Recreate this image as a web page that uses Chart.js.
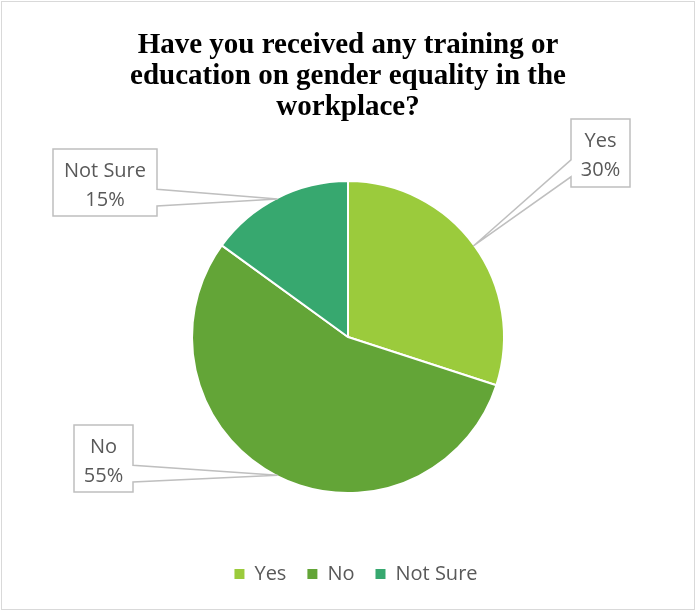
<!DOCTYPE html>
<html>
<head>
<meta charset="utf-8">
<script src="https://cdn.jsdelivr.net/npm/chart.js@4"></script>
<style>
html, body { margin: 0; padding: 0; background: #fff; }
#wrap { width: 696px; height: 611px; }
</style>
</head>
<body>
<div id="wrap"><canvas id="myChart" width="696" height="611"></canvas></div>
<script>
var labels = ['Yes', 'No', 'Not Sure'];
var values = [30, 55, 15];
var colors = ['#9BCB3C', '#63A537', '#37A86F'];
var titleLines = ['Have you received any training or', 'education on gender equality in the', 'workplace?'];

// callout boxes (canvas px), one per slice, in the same order as labels
var boxes = [
    {x: 571, y: 119, w: 59, h: 68, side: 'left'},
    {x: 74, y: 425, w: 59, h: 67, side: 'right'},
    {x: 53, y: 149, w: 104, h: 67, side: 'right'}
];

var frame = {
    id: 'frame',
    beforeDraw: function(chart) {
        var ctx = chart.ctx;
        ctx.save();
        ctx.fillStyle = '#fff';
        ctx.fillRect(0, 0, chart.width, chart.height);
        ctx.restore();
    },
    afterLayout: function(chart) {
        // legend sits a little right of centre in the original
        chart.legend.left += 8;
        chart.legend.right += 8;
    },
    afterDraw: function(chart) {
        var ctx = chart.ctx;
        ctx.save();
        ctx.strokeStyle = '#d9d9d9';
        ctx.lineWidth = 1;
        ctx.strokeRect(1.5, 1.5, chart.width - 3, chart.height - 3);
        ctx.restore();
    }
};

var callouts = {
    id: 'callouts',
    afterDatasetsDraw: function(chart) {
        var ctx = chart.ctx;
        var meta = chart.getDatasetMeta(0);
        var total = values.reduce(function(a, b) { return a + b; }, 0);
        meta.data.forEach(function(arc, i) {
            var p = arc.getProps(['x', 'y', 'startAngle', 'endAngle', 'outerRadius']);
            var mid = (p.startAngle + p.endAngle) / 2;
            var r = p.outerRadius - 1;
            var ax = p.x + Math.cos(mid) * r;
            var ay = p.y + Math.sin(mid) * r;
            var b = boxes[i];
            var y1 = b.y + b.h * 0.6, y2 = b.y + b.h * 0.85;

            ctx.save();
            ctx.beginPath();
            ctx.moveTo(b.x, b.y);
            ctx.lineTo(b.x + b.w, b.y);
            if (b.side == 'right') {
                ctx.lineTo(b.x + b.w, y1);
                ctx.lineTo(ax, ay);
                ctx.lineTo(b.x + b.w, y2);
            }
            ctx.lineTo(b.x + b.w, b.y + b.h);
            ctx.lineTo(b.x, b.y + b.h);
            if (b.side == 'left') {
                ctx.lineTo(b.x, y2);
                ctx.lineTo(ax, ay);
                ctx.lineTo(b.x, y1);
            }
            ctx.closePath();
            ctx.fillStyle = '#fff';
            ctx.fill();
            ctx.strokeStyle = '#bfbfbf';
            ctx.lineWidth = 1.5;
            ctx.stroke();

            ctx.fillStyle = '#595959';
            ctx.font = '20px "Open Sans"';
            ctx.textAlign = 'center';
            ctx.textBaseline = 'middle';
            var cx = b.x + b.w / 2;
            ctx.fillText(labels[i], cx, b.y + 22);
            ctx.fillText(Math.round(values[i] / total * 100) + '%', cx, b.y + 51);
            ctx.restore();
        });
    }
};

var ctx = document.getElementById('myChart').getContext('2d');
var myChart = new Chart(ctx, {
    type: 'pie',
    data: {
        labels: labels,
        datasets: [{
            data: values,
            backgroundColor: colors,
            borderColor: '#fff',
            borderWidth: 2
        }]
    },
    options: {
        responsive: false,
        animation: false,
        events: [],
        radius: 156,
        layout: {
            padding: {left: 0, right: 0, top: 0, bottom: 17}
        },
        plugins: {
            title: {
                display: true,
                text: titleLines,
                color: '#000',
                font: {family: '"Liberation Serif", "Times New Roman", serif', size: 29, weight: 'bold', lineHeight: 1.07},
                padding: {top: 30, bottom: 8}
            },
            legend: {
                position: 'bottom',
                labels: {
                    color: '#595959',
                    font: {family: '"Open Sans"', size: 20},
                    boxWidth: 10,
                    boxHeight: 10,
                    padding: 21,
                    generateLabels: function(chart) {
                        return Chart.overrides.doughnut.plugins.legend.labels.generateLabels(chart).map(function(l) {
                            l.lineWidth = 0;
                            l.strokeStyle = l.fillStyle;
                            return l;
                        });
                    }
                }
            },
            tooltip: {enabled: false}
        }
    },
    plugins: [frame, callouts]
});
</script>
</body>
</html>
